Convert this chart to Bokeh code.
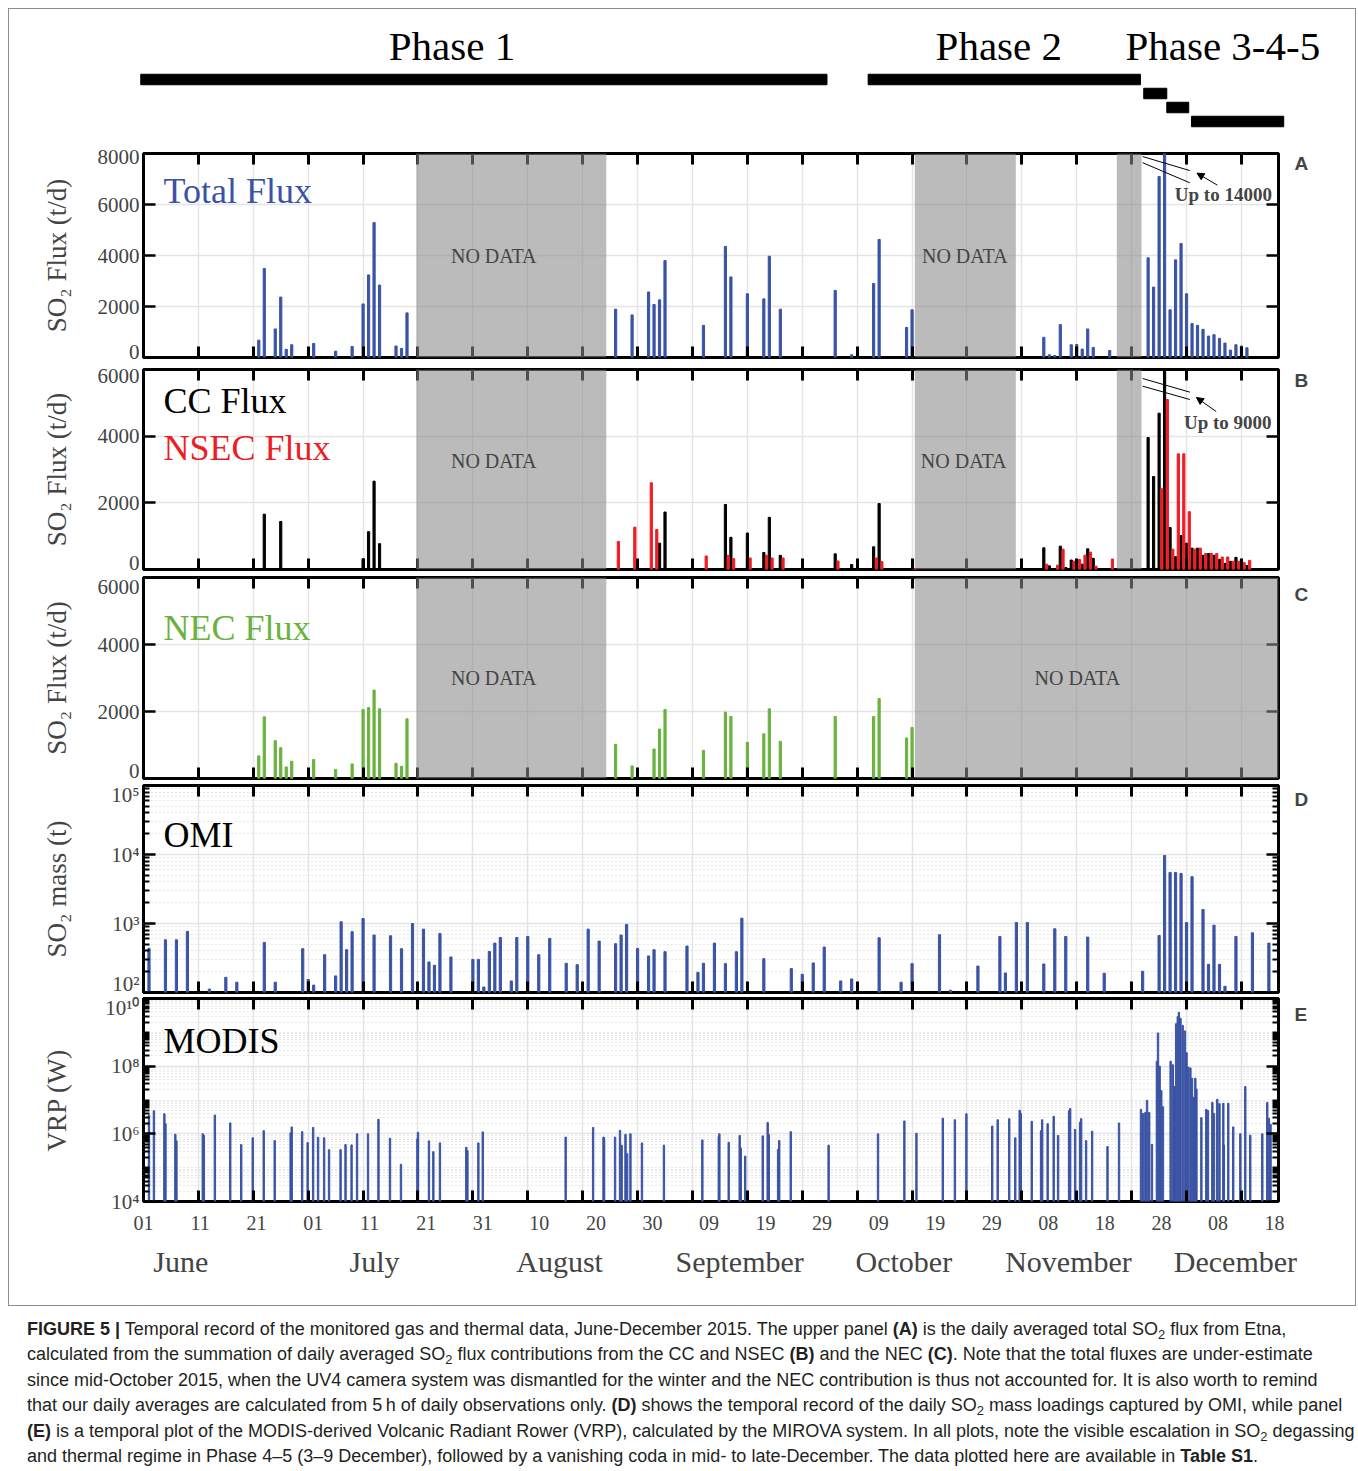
import numpy as np
from bokeh.plotting import figure
from bokeh.layouts import column, row
from bokeh.models import (Range1d, LinearAxis, LogAxis, FixedTicker, BoxAnnotation, Label,
                          Arrow, NormalHead, Div, ColumnDataSource, Grid, Spacer)
from bokeh.transform import dodge
from bokeh.embed import file_html
from bokeh.resources import INLINE
from bokeh.core.properties import value

# ---------------- DATA (day index = days since 1 June 2015) ----------------
total_days = [21, 22, 24, 25, 26, 27, 31, 35, 38, 40, 41, 42, 43, 46, 47, 48,
              86, 89, 92, 93, 94, 95, 102, 106, 107, 110, 113, 114, 116, 126, 129, 133, 134, 139, 140,
              164, 165, 166, 167, 169, 170, 171, 172, 173, 176,
              183, 184, 185, 186, 187, 188, 189, 190, 191, 192, 193, 194, 195, 196, 197, 198, 199, 200, 201]
total_flux = [680, 3490, 1120, 2370, 320, 500, 550, 250, 430, 2100, 3240, 5290, 2840, 450, 355, 1750,
              1895, 1670, 2570, 2080, 2260, 3800, 1260, 4355, 3160, 2500, 2300, 3970, 1895, 2630, 105, 2900, 4630, 1180, 1870,
              790, 105, 80, 1290, 500, 510, 330, 1120, 395, 275,
              3910, 2760, 7100, 14000, 1870, 3830, 4470, 2500, 1330, 1260, 1105, 840, 895, 750, 565, 290, 500, 450, 380]

cc_days = [22, 25, 40, 41, 42, 43,
           94, 95, 106, 107, 110, 113, 114, 116, 126, 129, 133, 134,
           164, 165, 166, 167, 168, 169, 170, 171, 172, 173,
           183, 184, 185, 186, 187, 188, 189, 190, 191, 192, 193, 194, 195, 196, 197, 198, 199, 200, 201]
cc_flux = [1660, 1440, 320, 1135, 2650, 775,
           790, 1725, 1950, 965, 1095, 510, 1565, 425, 470, 150, 680, 1980,
           650, 110, 30, 700, 60, 285, 300, 160, 620, 335,
           3960, 2790, 4690, 9000, 1260, 385, 1015, 790, 640, 640, 425, 480, 425, 305, 185, 245, 365, 305, 120]

nsec_days = [86, 89, 92, 93, 102, 106, 107, 110, 113, 114, 116, 126, 133, 134, 140,
             164, 166, 167, 169, 170, 171, 172, 173, 176,
             185, 186, 187, 188, 189, 190, 191, 192, 193, 194, 195, 196, 197, 198, 199, 200, 201]
nsec_flux = [840, 1270, 2600, 1200, 405, 425, 325, 345, 425, 345, 345, 255, 345, 235, 20,
             160, 130, 610, 250, 300, 430, 520, 100, 315,
             2420, 5100, 610, 3470, 3470, 1735, 610, 640, 480, 480, 480, 375, 375, 245, 245, 205, 275]

nec_days = [21, 22, 24, 25, 26, 27, 31, 35, 38, 40, 41, 42, 43, 46, 47, 48,
            86, 89, 93, 94, 95, 102, 106, 107, 110, 113, 114, 116, 126, 133, 134, 139, 140]
nec_flux = [675, 1840, 1130, 920, 345, 515, 565, 265, 435, 2060, 2120, 2640, 2080, 455, 365, 1780,
            1020, 375, 880, 1475, 2060, 840, 1980, 1850, 1080, 1335, 2080, 1110, 1850, 1850, 2385, 1210, 1525]

omi_days = [1, 4, 6, 8, 12, 15, 17, 22, 24, 29, 30, 31, 33, 35, 36, 37, 38, 40, 42, 45,
            47, 49, 51, 52, 53, 54, 56, 60, 61, 62, 63, 64, 65, 67, 68, 70, 72, 74, 77, 79,
            81, 83, 86, 87, 88, 90, 92, 93, 95, 99, 101, 102, 104, 106, 108, 109, 113, 118, 120, 122,
            124, 127, 129, 134, 138, 140, 145, 147, 152, 156, 157, 159, 161, 164, 166, 168, 172, 175, 182, 185,
            186, 187, 188, 189, 190, 191, 193, 194, 195, 196, 197, 199, 202, 205]
omi_mass = [436, 580, 580, 767, 112, 166, 141, 532, 141, 431, 154, 128, 353, 174, 1060, 417, 760, 1180, 680, 664,
            431, 1000, 828, 277, 248, 718, 327, 302, 302, 120, 394, 520, 628, 147, 628, 649, 353, 608, 265, 253,
            828, 556, 509, 680, 968, 436, 339, 417, 390, 471, 196, 265, 520, 262, 390, 1194, 309, 222, 184, 268,
            456, 147, 157, 621, 141, 262, 687, 108, 242, 649, 192, 1033, 1033, 259, 838, 649, 635, 190, 203, 671,
            9680, 5500, 5500, 5320, 1033, 4770, 1590, 256, 946, 256, 123, 649, 733, 520]

modis_days = [1.0, 1.9, 3.8, 4.0, 5.8, 6.0, 10.8, 11.0, 13.0, 15.8, 17.8, 19.9, 21.9, 23.9, 26.8, 27.0,
              28.9, 29.9, 30.9, 31.8, 32.9, 33.8, 35.9, 36.8, 37.9, 38.9, 40.9, 42.8, 44.9, 46.9, 49.9, 50.0,
              52.0, 52.8, 54.0, 58.8, 59.0, 61.0, 61.8, 76.9, 81.9, 83.8, 83.9, 85.9, 86.8, 87.1, 87.8, 88.1,
              88.7, 90.8, 94.8, 101.8, 104.8, 104.9, 106.6, 108.6, 108.8, 109.6, 112.8, 113.7, 113.9, 115.6,
              115.8, 117.9, 124.8, 133.8, 138.6, 140.8, 145.6, 147.8, 149.9, 154.6, 155.6, 157.7, 158.8, 159.6,
              159.8, 161.8, 163.5, 163.7, 164.7, 165.8, 166.6, 168.6, 168.8, 169.7, 170.6, 170.8, 171.7, 172.8,
              175.6, 177.7, 181.7, 182.1, 182.5, 182.8, 183.2, 183.7, 184.6, 184.8, 185.1, 185.4, 185.7, 187.1,
              187.5, 187.8, 188.1, 188.4, 188.6, 188.9, 189.3, 189.7, 190.0, 190.3, 190.7, 191.0, 191.3, 191.6,
              191.8, 192.7, 193.6, 193.9, 194.7, 195.0, 195.6, 196.0, 196.7, 196.8, 197.6, 198.5, 199.8, 200.7,
              201.6, 203.8, 204.7, 205.0, 205.3]
modis_vrp = [3.6e6, 4.8e6, 3.9e6, 2.0e6, 9.7e5, 6.2e5, 1.0e6, 9.0e5, 3.6e6, 2.1e6, 4.8e5, 7.6e5, 1.24e6, 6.3e5, 1.07e6, 1.6e6,
             1.16e6, 5.5e5, 1.55e6, 7.9e5, 7.6e5, 3.4e5, 3.4e5, 4.8e5, 4.7e5, 1.0e6, 1.0e6, 2.7e6, 7.4e5, 1.26e5, 7.1e5, 1.11e6,
             6.2e5, 2.97e5, 5.4e5, 4.0e5, 3.2e5, 5.4e5, 1.14e6, 8.0e5, 1.55e6, 8.0e5, 7.4e5, 8.0e5, 1.27e6, 4.6e5, 9.6e5, 2.6e5,
             1.0e6, 5.4e5, 4.6e5, 6.6e5, 8.3e5, 1.0e6, 5.6e5, 9.0e5, 3.8e5, 2.2e5, 8.7e5, 2.15e6, 9.5e5, 3.5e5,
             6.3e5, 1.16e6, 4.6e5, 1.0e6, 2.4e6, 1.04e6, 2.9e6, 2.6e6, 3.9e6, 1.7e6, 2.6e6, 2.8e6, 7.6e5, 5.0e6,
             4.0e6, 2.35e6, 1.24e6, 2.6e6, 2.0e6, 3.3e6, 8.9e5, 4.8e6, 5.6e6, 1.35e6, 2.2e6, 2.8e6, 6.3e5, 1.2e6,
             4.2e5, 2.1e6, 5.3e6, 4.0e6, 4.3e6, 9.8e6, 4.3e6, 4.9e5, 1.4e8, 9.6e8, 1.0e8, 1.9e7, 6.3e6, 1.4e8,
             1.1e8, 2.5e7, 1.8e9, 2.9e9, 3.9e9, 2.6e9, 1.6e9, 1.1e9, 2.5e8, 9.4e7, 8.9e7, 4.4e7, 1.2e7, 4.4e7,
             2.1e7, 3.0e6, 5.3e6, 4.9e6, 8.5e6, 4.0e6, 1.05e7, 7.8e6, 8.0e6, 4.6e5, 8.0e6, 1.6e6, 1.0e6, 2.5e7,
             9.1e5, 1.0e6, 8.5e6, 2.9e6, 1.9e6]

nodata_ab_start = [49.7, 140.5, 177.3]
nodata_ab_end = [84.3, 158.9, 181.8]
nodata_c_start = [49.7, 140.5]
nodata_c_end = [84.3, 206.75]

phase_start = [-0.5, 132.0, 182.2, 186.4, 190.9]
phase_end = [124.5, 181.6, 186.4, 190.4, 207.7]
phase_level = [0, 0, 1, 2, 3]
phase_labels = ["Phase 1", "Phase 2", "Phase 3-4-5"]

xtick_labels = ["01", "11", "21", "01", "11", "21", "31", "10", "20", "30", "09",
                "19", "29", "09", "19", "29", "08", "18", "28", "08", "18"]
month_names = ["June", "July", "August", "September", "October", "November", "December"]

# ---------------- LAYOUT / STYLE CONSTANTS ----------------
XMAX = 206.75
W = 1346
LB, RB = 134, 77
FRAME_W = W - LB - RB
PPD = FRAME_W / XMAX
SERIF = "Liberation Serif"
BLUE, RED, GREEN = "#3a53a4", "#ee1c25", "#6ab23e"
GRIDC = "#e4e4e4"
xr = Range1d(0, XMAX)
xt = list(range(0, 201, 10))
phase_text_x = [56.2, 155.8, 196.6]
month_pos = [6.8, 42.1, 75.8, 108.6, 138.5, 168.5, 198.9]
PH = 134  # phase strip height


def base(height, top, bottom, y_range, log=False):
    p = figure(width=W, height=height, x_range=xr, y_range=y_range,
               y_axis_type="log" if log else "linear",
               x_axis_location=None, y_axis_location=None,
               toolbar_location=None, output_backend="svg",
               min_border_left=LB, min_border_right=RB,
               min_border_top=top, min_border_bottom=bottom)
    p.grid.visible = False
    p.outline_line_color = "black"
    p.outline_line_width = 3
    return p


def blank(ticks):
    return dict(major_label_overrides={t: "" for t in ticks},
                major_label_text_font_size="1px", major_label_standoff=0)


def shifted(v, px, frame_h, lo, hi, log):
    if log:
        return float(10 ** (np.log10(v) + px * (np.log10(hi) - np.log10(lo)) / frame_h))
    return float(v + px * (hi - lo) / frame_h)


def add_frame_axes(p, yticks, ytexts, nudges, yminor, ylabel, log, label_standoff, frame_h, lo, hi):
    p.add_layout(Grid(dimension=0, ticker=FixedTicker(ticks=xt), grid_line_color=GRIDC,
                      grid_line_width=1.5))
    p.add_layout(Grid(dimension=1, ticker=FixedTicker(ticks=yticks, minor_ticks=yminor),
                      grid_line_color=GRIDC, grid_line_width=1.5,
                      minor_grid_line_color="#d0d0d0" if yminor else None,
                      minor_grid_line_dash="1 3"))
    for loc in ["above", "below"]:
        ax = LinearAxis(ticker=FixedTicker(ticks=xt), major_tick_in=11, major_tick_out=0,
                        major_tick_line_width=3, minor_tick_line_color=None, axis_line_color=None,
                        **blank(xt))
        p.add_layout(ax, loc)
    Ax = LogAxis if log else LinearAxis
    for loc in ["left", "right"]:
        ax = Ax(ticker=FixedTicker(ticks=yticks, minor_ticks=yminor),
                major_tick_in=12, major_tick_out=0, minor_tick_in=6, minor_tick_out=0,
                major_tick_line_width=2.5, minor_tick_line_width=2, axis_line_color=None,
                **blank(yticks))
        p.add_layout(ax, loc)
    pos = [shifted(t, n, frame_h, lo, hi, log) for t, n in zip(yticks, nudges)]
    lab = Ax(ticker=FixedTicker(ticks=pos), major_label_overrides=dict(zip(pos, ytexts)),
             major_tick_in=0, major_tick_out=0, minor_tick_in=0, minor_tick_out=0,
             axis_line_color=None, major_label_text_font=SERIF, major_label_text_font_size="21px",
             major_label_standoff=4, axis_label=ylabel, axis_label_text_font=SERIF,
             axis_label_text_font_size="27px", axis_label_text_font_style="normal",
             axis_label_standoff=label_standoff)
    p.add_layout(lab, "left")


def panel_label(p, txt, ytop, dy, color="black"):
    p.add_layout(Label(x=0, y=ytop, x_offset=20, y_offset=dy, text=txt, text_color=color,
                       text_font=SERIF, text_font_size="36px", text_baseline="middle"))


def letter(p, txt, dy, frame_h, lo, hi, log=False):
    y = shifted(hi, -dy, frame_h, lo, hi, log)
    Ax = LogAxis if log else LinearAxis
    ax = Ax(ticker=FixedTicker(ticks=[y]), major_label_overrides={y: txt},
            major_tick_in=0, major_tick_out=0, minor_tick_in=0, minor_tick_out=0,
            axis_line_color=None, major_label_text_font="Liberation Sans",
            major_label_text_font_style="bold", major_label_text_font_size="19px",
            major_label_standoff=16)
    p.add_layout(ax, "right")


def nodata(p, starts, ends, tx, ty):
    for s, e in zip(starts, ends):
        p.add_layout(BoxAnnotation(left=s, right=e, fill_color="#8a8a8a", fill_alpha=0.58,
                                   line_color=None))
    for x, y in zip(tx, ty):
        p.add_layout(Label(x=x, y=y, text="NO DATA", text_font=SERIF, text_font_size="20px",
                           text_align="center", text_baseline="middle"))


# ---------------- Phase strip (frame spans full width, same day scale) ----------------
pf = figure(width=W, height=PH, x_range=Range1d(-LB / PPD, (W - LB) / PPD),
            y_range=Range1d(PH, 0), toolbar_location=None, output_backend="svg",
            min_border_left=0, min_border_right=0, min_border_top=0, min_border_bottom=0,
            x_axis_location=None, y_axis_location=None)
pf.frame_align = False
pf.grid.visible = False
pf.outline_line_color = None
psrc = ColumnDataSource(dict(left=phase_start, right=phase_end,
                             y=[70 + 14 * lv for lv in phase_level]))
pf.hbar(y="y", left="left", right="right", height=10.5, source=psrc, color="black")
pf.text(x=phase_text_x, y=[36] * 3, text=phase_labels, text_font=value(SERIF),
        text_font_size="41px", text_align="center", text_baseline="middle", color="black")

# ---------------- Panel A ----------------
pA = base(220, 10, 6, Range1d(0, 8000))
add_frame_axes(pA, [0, 2000, 4000, 6000, 8000], ["0", "2000", "4000", "6000", "8000"],
               [6, 0, 0, 0, -3], [], "SO\u2082 Flux (t/d)", False, 23, 204, 0, 8000)
pA.vbar(x=total_days, top=total_flux, width=0.4, color=BLUE)
nodata(pA, nodata_ab_start, nodata_ab_end, [63.8, 149.6], [4000, 4000])
panel_label(pA, "Total Flux", 8000, -37, BLUE)
letter(pA, "A", 10, 204, 0, 8000)
pA.segment(x0=[182.0, 182.0], y0=[7880, 7640], x1=[190.6, 190.6], y1=[7330, 6850],
           line_color="black", line_width=1)
pA.add_layout(Arrow(end=NormalHead(size=7, fill_color="black", line_color="black"),
                    x_start=195.6, y_start=6760, x_end=191.9, y_end=7230, line_width=1))
pA.add_layout(Label(x=196.7, y=6380, text="Up to 14000", text_font=SERIF, text_font_style="bold",
                    text_font_size="19px", text_align="center", text_baseline="middle"))

# ---------------- Panel B ----------------
pB = base(211, 6, 5, Range1d(0, 6000))
add_frame_axes(pB, [0, 2000, 4000, 6000], ["0", "2000", "4000", "6000"],
               [7, 0, 0, -6], [], "SO\u2082 Flux (t/d)", False, 23, 200, 0, 6000)
srcB1 = ColumnDataSource(dict(day=cc_days, v=cc_flux))
srcB2 = ColumnDataSource(dict(day=nsec_days, v=nsec_flux))
pB.vbar(x="day", top="v", width=0.4, color="black", source=srcB1)
pB.vbar(x=dodge("day", 0.5), top="v", width=0.4, color=RED, source=srcB2)
nodata(pB, nodata_ab_start, nodata_ab_end, [63.8, 149.4], [3250, 3250])
panel_label(pB, "CC Flux", 6000, -31)
panel_label(pB, "NSEC Flux", 6000, -78, RED)
letter(pB, "B", 11, 200, 0, 6000)
pB.segment(x0=[182.0, 182.0], y0=[5730, 5500], x1=[190.6, 190.6], y1=[5320, 5100],
           line_color="black", line_width=1)
pB.add_layout(Arrow(end=NormalHead(size=7, fill_color="black", line_color="black"),
                    x_start=195.4, y_start=4740, x_end=191.8, y_end=5160, line_width=1))
pB.add_layout(Label(x=197.5, y=4410, text="Up to 9000", text_font=SERIF, text_font_style="bold",
                    text_font_size="19px", text_align="center", text_baseline="middle"))

# ---------------- Panel C ----------------
pC = base(208, 3, 4, Range1d(0, 6000))
add_frame_axes(pC, [0, 2000, 4000, 6000], ["0", "2000", "4000", "6000"],
               [8, 0, 0, -9], [], "SO\u2082 Flux (t/d)", False, 23, 201, 0, 6000)
pC.vbar(x=nec_days, top=nec_flux, width=0.4, color=GREEN)
nodata(pC, nodata_c_start, nodata_c_end, [63.8, 170.1], [3000, 3000])
panel_label(pC, "NEC Flux", 6000, -50, GREEN)
letter(pC, "C", 17, 201, 0, 6000)

# ---------------- Panel D ----------------
d_major = [1e2, 1e3, 1e4, 1e5]
d_minor = [m * 10.0 ** e for e in range(2, 5) for m in range(2, 10)]
d_text = ["10\u00b2", "10\u00b3", "10\u2074", "10\u2075"]
pD = base(213, 3, 3, Range1d(1e2, 1e5), log=True)
add_frame_axes(pD, d_major, d_text, [9, 0, 0, -9], d_minor, "SO\u2082 mass (t)", True, 36,
               207, 1e2, 1e5)
pD.vbar(x=omi_days, top=omi_mass, bottom=1e2, width=0.4, color=BLUE)
panel_label(pD, "OMI", 1e5, -49)
letter(pD, "D", 14, 207, 1e2, 1e5, log=True)

# ---------------- Panel E ----------------
e_major = [1e4, 1e6, 1e8, 1e10]
e_minor = [m * 10.0 ** e for e in range(4, 10) for m in range(2, 10)] + [1e5, 1e7, 1e9]
e_text = ["10\u2074", "10\u2076", "10\u2078", "10\u00b9\u2070"]
pE = base(310, 3, 104, Range1d(1e4, 1e10), log=True)
add_frame_axes(pE, e_major, e_text, [0, 0, 0, -9], e_minor, "VRP (W)", True, 30, 203, 1e4, 1e10)
pE.vbar(x=modis_days, top=modis_vrp, bottom=1e4, width=0.25, color=BLUE)
panel_label(pE, "MODIS", 1e10, -42)
letter(pE, "E", 16, 203, 1e4, 1e10, log=True)
pE.extra_x_ranges = {"lab": Range1d(0, FRAME_W / 56.55)}
lab_axis = LinearAxis(x_range_name="lab", ticker=FixedTicker(ticks=list(range(len(xtick_labels)))),
                      major_label_overrides={i: s for i, s in enumerate(xtick_labels)},
                      major_tick_in=0, major_tick_out=0, minor_tick_line_color=None,
                      axis_line_color=None, major_label_text_font=SERIF,
                      major_label_text_font_size="20px", major_label_standoff=14)
pE.add_layout(lab_axis, "below")
month_axis = LinearAxis(ticker=FixedTicker(ticks=month_pos),
                        major_label_overrides={p: m for p, m in zip(month_pos, month_names)},
                        major_tick_in=0, major_tick_out=0, minor_tick_line_color=None,
                        axis_line_color=None, major_label_text_font=SERIF,
                        major_label_text_font_size="30px", major_label_standoff=12)
pE.add_layout(month_axis, "below")

# ---------------- Caption ----------------
SUB = '<sub style="font-size:0.72em; line-height:0; vertical-align:-0.3em;">2</sub>'
cap_html = (
    '<div style="padding:6px 0 0 14px; font-family:\'Liberation Sans\', Arial, sans-serif; '
    'font-size:18px; line-height:25.4px; color:#231f20; white-space:nowrap;">'
    '<b>FIGURE 5 |</b> Temporal record of the monitored gas and thermal data, June-December 2015. '
    'The upper panel <b>(A)</b> is the daily averaged total SO' + SUB + ' flux from Etna,<br>'
    'calculated from the summation of daily averaged SO' + SUB + ' flux contributions from the CC and NSEC '
    '<b>(B)</b> and the NEC <b>(C)</b>. Note that the total fluxes are under-estimate<br>'
    'since mid-October 2015, when the UV4 camera system was dismantled for the winter and the NEC '
    'contribution is thus not accounted for. It is also worth to remind<br>'
    'that our daily averages are calculated from 5\u2009h of daily observations only. <b>(D)</b> shows the '
    'temporal record of the daily SO' + SUB + ' mass loadings captured by OMI, while panel<br>'
    '<b>(E)</b> is a temporal plot of the MODIS-derived Volcanic Radiant Rower (VRP), calculated by the '
    'MIROVA system. In all plots, note the visible escalation in SO' + SUB + ' degassing<br>'
    'and thermal regime in Phase 4\u20135 (3\u20139 December), followed by a vanishing coda in mid- to '
    'late-December. The data plotted here are available in <b>Table S1</b>.'
    '</div>'
)
cap = Div(text=cap_html, width=1346, height=157)

figs = column(pf, pA, pB, pC, pD, pE, styles={"border": "1px solid #8c8c8c"})
page = row(Spacer(width=8), column(Spacer(height=8), figs, cap))

open("out.html", "w").write(file_html(page, INLINE, title="Figure 5"))
